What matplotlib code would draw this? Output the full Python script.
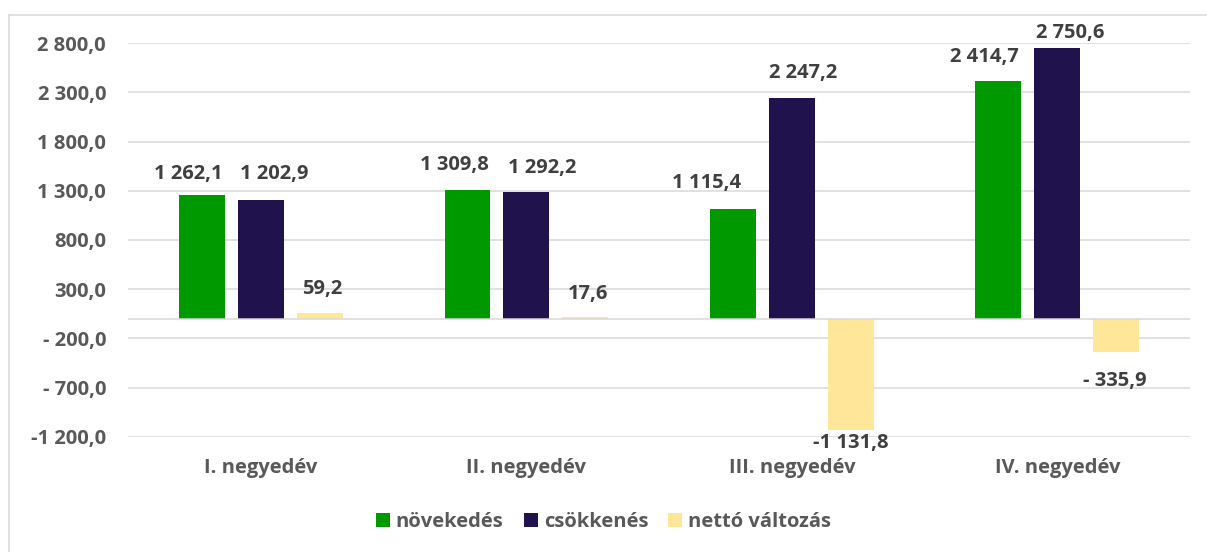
import matplotlib
matplotlib.use("Agg")
import matplotlib.pyplot as plt
from matplotlib.patches import Patch
from matplotlib.lines import Line2D
import numpy as np

categories = ["I. negyedév", "II. negyedév", "III. negyedév", "IV. negyedév"]
series_names = ["növekedés", "csökkenés", "nettó változás"]
novekedes = [1262.1, 1309.8, 1115.4, 2414.7]
csokkenes = [1202.9, 1292.2, 2247.2, 2750.6]
netto = [59.2, 17.6, -1131.8, -335.9]
yticks = [-1200, -700, -200, 300, 800, 1300, 1800, 2300, 2800]
ytick_labels = ["-1 200,0", "- 700,0", "- 200,0", "300,0", "800,0",
                "1 300,0", "1 800,0", "2 300,0", "2 800,0"]

colors = ["#009900", "#20124D", "#FFE699"]

# label offsets in pixels (dx, dy) relative to the bar end
label_offsets = [
    [(-14, 21), (-13, 25), (-26, 26), (-14, 24)],
    [(13, 26), (16, 24), (11, 25), (13, 15)],
    [(2, 24), (3, 23), (0, -13), (-1, -29)],
]

def fmt(v):
    s = f"{abs(v):,.1f}".replace(",", " ").replace(".", ",")
    if v < 0:
        return ("-" if abs(v) >= 1000 else "- ") + s
    return s

FONT = "Open Sans"
FS = 14.5
plt.rcParams["font.family"] = [FONT, "DejaVu Sans"]

fig = plt.figure(figsize=(12.07, 5.52), dpi=100)
ax = fig.add_axes([0.1063, 0.2089, 0.9859 - 0.1063, 0.9216 - 0.2089])

x = np.arange(len(categories))
width = 0.173
step = 0.222
all_series = [novekedes, csokkenes, netto]
for k, (vals, col) in enumerate(zip(all_series, colors)):
    pos = x + (k - 1) * step
    bars = ax.bar(pos, vals, width=width, color=col, zorder=3, label=series_names[k])
    for i, (b, v) in enumerate(zip(bars, vals)):
        dx, dy = label_offsets[k][i]
        ax.annotate(fmt(v), xy=(b.get_x() + b.get_width() / 2, v),
                    xytext=(dx * 0.72, dy * 0.72), textcoords="offset points",
                    ha="center", va="center", fontsize=FS, fontweight="bold",
                    color="#404040", zorder=5)

ax.set_xlim(-0.5, len(categories) - 0.5)
ax.set_ylim(-1200, 2800)
ax.set_yticks(yticks)
ax.set_yticklabels(ytick_labels)
ax.set_xticks(x)
ax.set_xticklabels(categories)
ax.tick_params(axis="y", length=0, pad=16, labelsize=FS, labelcolor="#595959")
ax.tick_params(axis="x", length=0, pad=15, labelsize=FS, labelcolor="#595959")
for lab in ax.get_xticklabels() + ax.get_yticklabels():
    lab.set_fontweight("bold")
ax.grid(axis="y", color="#D9D9D9", linewidth=1.1, zorder=0)
ax.axhline(0, color="#D9D9D9", linewidth=1.1, zorder=4)
for s in ax.spines.values():
    s.set_visible(False)

handles = [Patch(facecolor=c, edgecolor="none") for c in colors]
leg = fig.legend(handles, series_names, loc="center", bbox_to_anchor=(0.5, 1 - 522 / 552),
                 ncol=3, frameon=False, handlelength=0.7, handleheight=0.7,
                 handletextpad=0.3, columnspacing=1.0,
                 prop={"family": FONT, "weight": "bold", "size": FS})
for t in leg.get_texts():
    t.set_color("#595959")

# outer chart border (left and top)
fig.add_artist(Line2D([8.5 / 1207, 8.5 / 1207], [0, 1 - 14.5 / 552], transform=fig.transFigure,
                      color="#D9D9D9", linewidth=1.1))
fig.add_artist(Line2D([8.5 / 1207, 1], [1 - 14.5 / 552, 1 - 14.5 / 552], transform=fig.transFigure,
                      color="#D9D9D9", linewidth=1.1))

fig.savefig("out.png", dpi=100)
